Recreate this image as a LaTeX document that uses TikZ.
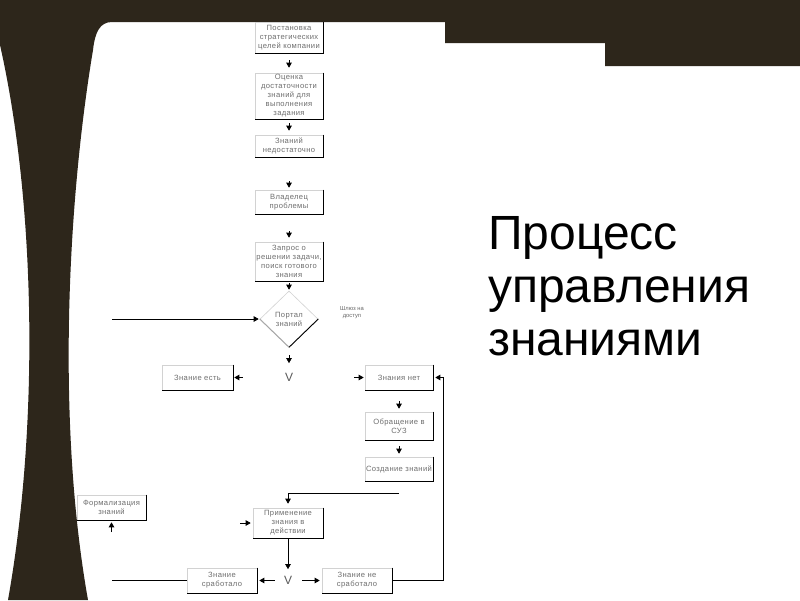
\documentclass[tikz,border=0pt]{standalone}
\usepackage{fontspec}
\setmainfont{Liberation Sans}
\newfontfamily\boxfont[LetterSpace=5]{Liberation Sans}
\usetikzlibrary{shapes.geometric,arrows.meta,positioning,calc}
\definecolor{fon}{RGB}{45,38,27}
\definecolor{textgray}{RGB}{110,110,110}

\begin{document}
\begin{tikzpicture}[
  x=1pt, y=-1pt,
  >={Triangle[length=5pt,width=5.5pt]},
  block/.style={
    rectangle, draw=gray!35, fill=white, line width=0.6pt,
    minimum width=68pt, inner sep=1pt, align=center,
    text=textgray, font=\boxfont\fontsize{7.6}{9}\selectfont
  },
  decision/.style={
    diamond, draw=gray!35, fill=white, line width=0.6pt,
    minimum width=58pt, minimum height=56pt, inner sep=0pt, align=center,
    text=textgray, font=\boxfont\fontsize{7.6}{9}\selectfont
  },
  gate/.style={inner sep=0pt, text=gray!70!black, font=\fontsize{12}{12}\selectfont},
  lbl/.style={inner sep=0pt, align=center, text=gray!80!black, font=\fontsize{5.8}{7}\selectfont},
  heading/.style={inner sep=0pt, align=left, text=black, font=\fontsize{48}{53}\selectfont},
  rim/.style={draw=black, line width=0.9pt},
  conn/.style={->, line width=0.7pt},
  plain/.style={-, line width=0.7pt}
]
\useasboundingbox (0,0) rectangle (800,600);
\fill[white] (0,0) rectangle (800,600);

% -- Фон слайда --
\fill[fon] (0,0) -- (800,0) -- (800,66) -- (605,66) -- (605,43) -- (445,43) -- (445,22) -- (112,22)
  .. controls (100,22) and (95,32) .. (93,50)
  .. controls (68,200) and (56,420) .. (88,600)
  -- (8,600)
  .. controls (40,420) and (35,200) .. (0,45) -- cycle;

% -- Заголовок --
\node[heading, anchor=north west] (titel) at (488,216) {Процесс\\управления\\знаниями};

% -- Основная колонка --
\node[block, minimum height=31pt] (postanovka) at (289,37.5) {Постановка\\стратегических\\целей компании};
\node[block, minimum height=46pt] (ocenka)     at (289,96)   {Оценка\\достаточности\\знаний для\\выполнения\\задания};
\node[block, minimum height=22pt] (nedost)     at (289,146)  {Знаний\\недостаточно};
\node[block, minimum height=24pt] (vladelec)   at (289,202)  {Владелец\\проблемы};
\node[block, minimum height=39pt] (zapros)     at (289,261.5){Запрос о\\решении задачи,\\поиск готового\\знания};
\node[decision] (portal) at (289,319) {Портал\\знаний};
\node[lbl]      (dostup) at (352,313) {Шлюз на\\доступ};
\node[gate]     (ili1)   at (289,377.5) {V};

% -- Ветви --
\node[block, minimum width=71pt, minimum height=25pt] (est)      at (197.5,377.5) {Знание есть};
\node[block, minimum height=25pt]                     (net)      at (399,377.5)   {Знания нет};
\node[block, minimum height=28pt]                     (obrash)   at (399,426)     {Обращение в\\СУЗ};
\node[block, minimum height=24pt]                     (sozdanie) at (399,469)     {Создание знаний};
\node[block, minimum width=69pt, minimum height=25pt] (formal)   at (111.5,507.5) {Формализация\\знаний};
\node[block, minimum width=70pt, minimum height=30pt] (primen)   at (288,523)     {Применение\\знания в\\действии};
\node[gate] (ili2) at (288,580.5) {V};
\node[block, minimum width=70pt, minimum height=25pt] (srab)     at (222,580.5)   {Знание\\сработало};
\node[block, minimum width=70pt, minimum height=25pt] (nesrab)   at (357,580.5)   {Знание не\\сработало};

% -- Тени рамок --
\foreach \b in {postanovka,ocenka,nedost,vladelec,zapros,est,net,obrash,sozdanie,formal,primen,srab,nesrab}
  \draw[rim] (\b.north east) -- (\b.south east) -- (\b.south west);
\draw[rim] (portal.east) -- (portal.south);
\draw[rim, draw=gray!70] (portal.south) -- (portal.west);

% -- Свободные концы --
\coordinate (vhod)      at (112,319);
\coordinate (vyhod)     at (112,580.5);
\coordinate (vhodprim)  at (240,523);
\coordinate (podformal) at (111.5,532);
\coordinate (podsozd)   at (399,493);

% -- Связи --
\draw[conn, shorten <=7pt,  shorten >=5pt] (postanovka) -- (ocenka);
\draw[conn, shorten <=4pt,  shorten >=4pt] (ocenka) -- (nedost);
\draw[conn, shorten <=24pt, shorten >=2pt] (nedost) -- (vladelec);
\draw[conn, shorten <=17pt, shorten >=4pt] (vladelec) -- (zapros);
\draw[conn, shorten <=2pt,  shorten >=1pt] (zapros) -- (portal);
\draw[conn, shorten >=1pt] (vhod) -- (portal.west);
\draw[conn, shorten <=8pt,  shorten >=10pt] (portal.south) -- (ili1.north);

\draw[conn, shorten <=42pt, shorten >=1pt] (ili1.west) -- (est.east);
\draw[conn, shorten <=61pt, shorten >=1pt] (ili1.east) -- (net.west);

\draw[conn, shorten <=11pt, shorten >=3pt] (net) -- (obrash);
\draw[conn, shorten <=6pt,  shorten >=3pt] (obrash) -- (sozdanie);
\draw[conn, shorten >=4pt] (podsozd) -| (primen.north);
\draw[conn, shorten >=2pt] (vhodprim) -- (primen.west);
\draw[conn, shorten >=2pt] (podformal) -- (formal.south);

\draw[conn, shorten >=7pt] (primen.south) -- (ili2.north);
\draw[conn, shorten <=9pt,  shorten >=2pt] (ili2.west) -- (srab.east);
\draw[conn, shorten <=10pt, shorten >=2pt] (ili2.east) -- (nesrab.west);
\draw[plain] (srab.west) -- (vyhod);
\draw[conn, shorten >=2pt] (nesrab.east) -- ++(51,0) |- (net.east);

\end{tikzpicture}
\end{document}
